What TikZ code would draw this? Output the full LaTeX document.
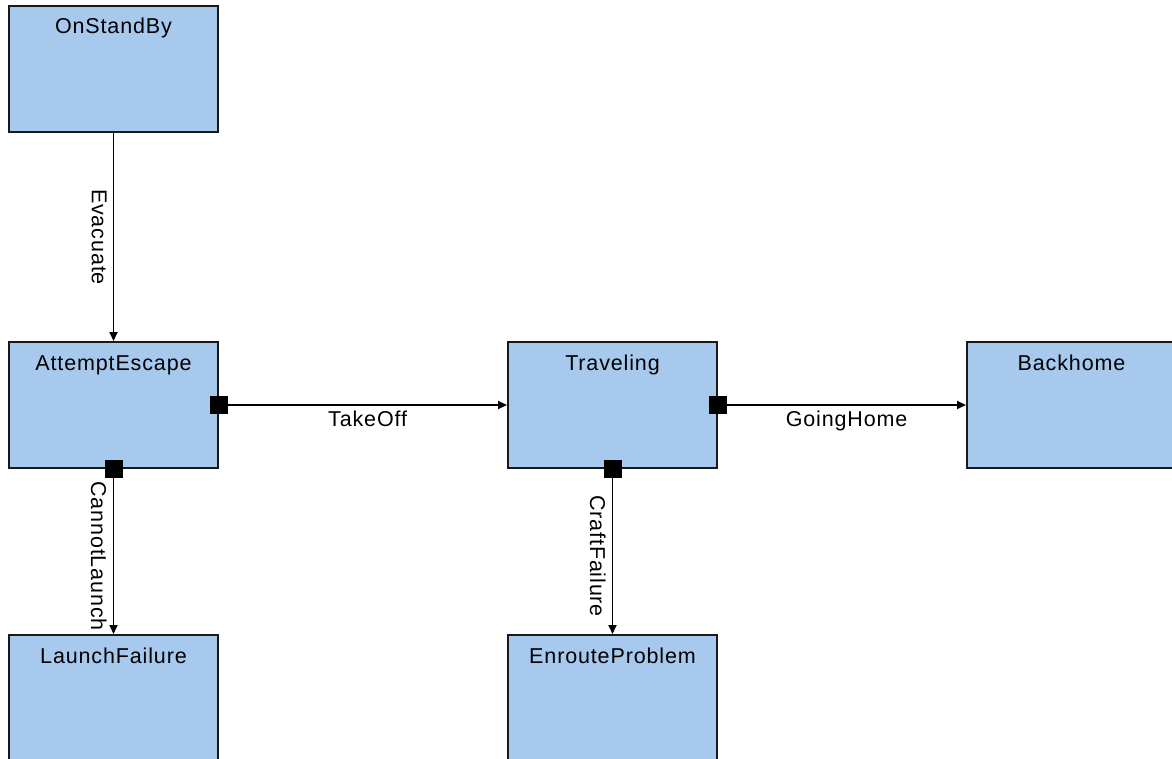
\documentclass[tikz,border=0pt]{standalone}
\usepackage{fontspec}
\setmainfont{Liberation Sans}[LetterSpace=4]
\usetikzlibrary{arrows.meta}
\definecolor{statefill}{RGB}{167,201,238}

\begin{document}
\begin{tikzpicture}[x=1pt,y=-1pt,
  font=\fontsize{21.5}{25}\selectfont,
  state/.style={draw=black!90,line width=2pt,fill=statefill,inner sep=0pt,
    text width=209pt,align=center,text height=28pt,text depth=98pt,anchor=north west},
  port/.style={fill=black,inner sep=0pt,minimum size=18pt},
  trans/.style={line width=1.8pt,-{Triangle[length=9pt,width=8pt]}},
  vlabel/.style={midway,rotate=-90,anchor=north,inner sep=6pt},
  hlabel/.style={midway,below,inner sep=5pt}]
\clip (0,0) rectangle (1172,759);
% states
\node[state] (onstandby) at (8,5) {OnStandBy};
\node[state] (attemptescape) at (8,341) {AttemptEscape};
\node[state] (traveling) at (507,341) {Traveling};
\node[state] (backhome) at (966,341) {Backhome};
\node[state] (launchfailure) at (8,634) {LaunchFailure};
\node[state] (enrouteproblem) at (507,634) {EnrouteProblem};
% ports
\node[port] (escaperight) at (attemptescape.east) {};
\node[port] (escapedown) at (attemptescape.south) {};
\node[port] (travelright) at (traveling.east) {};
\node[port] (traveldown) at (traveling.south) {};
% transitions
\draw[trans] (onstandby.south) -- (attemptescape.north) node[vlabel]{Evacuate};
\draw[trans] (escaperight) -- (traveling.west) node[hlabel]{TakeOff};
\draw[trans] (escapedown) -- (launchfailure.north) node[vlabel]{CannotLaunch};
\draw[trans] (travelright) -- (backhome.west) node[hlabel]{GoingHome};
\draw[trans] (traveldown) -- (enrouteproblem.north) node[vlabel]{CraftFailure};
\end{tikzpicture}
\end{document}
